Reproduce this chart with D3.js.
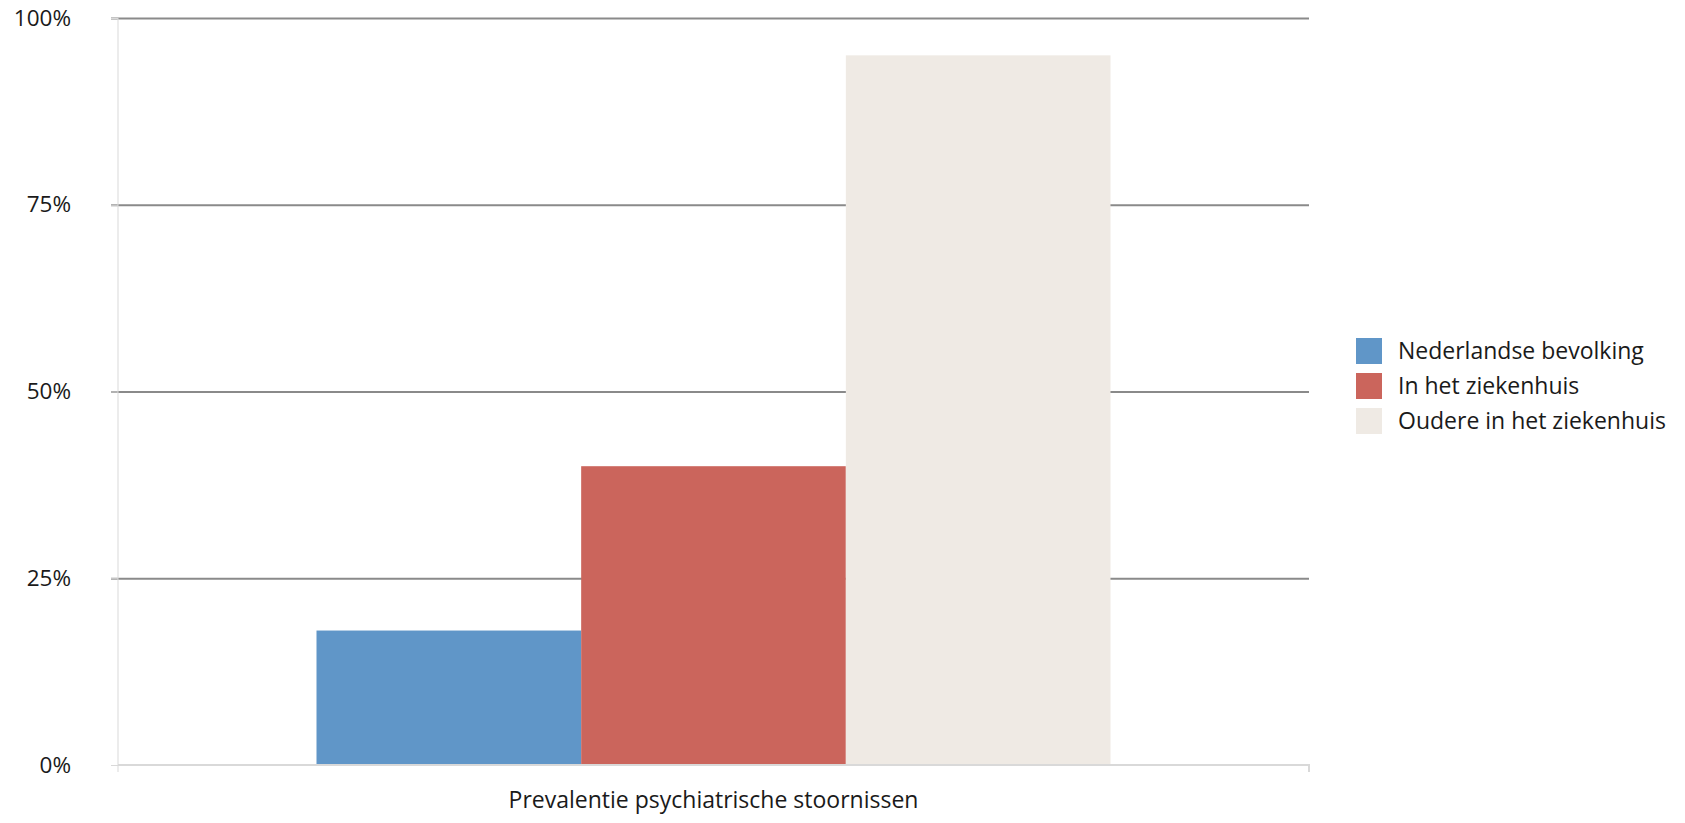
<!DOCTYPE html>
<html>
<head>
<meta charset="utf-8">
<script src="https://cdn.jsdelivr.net/npm/d3@7"></script>
<style>
  body { margin: 0; background: #fff; }
  text { font-family: "Open Sans", sans-serif; fill: #1a1a1a; }
</style>
</head>
<body>
<svg id="chart" width="1685" height="823"></svg>
<script>
/*Data*/
var category = 'Prevalentie psychiatrische stoornissen';
var seriesNames = ['Nederlandse bevolking', 'In het ziekenhuis', 'Oudere in het ziekenhuis'];
var seriesValues = [18, 40, 95];
var seriesColors = ['#6096c8', '#cb655c', '#efeae4'];
var tickValues = [0, 25, 50, 75, 100];

var svg = d3.select('#chart'),
    margin = {top: 18, right: 376, bottom: 58, left: 118},
    width = +svg.attr('width') - margin.left - margin.right,
    height = +svg.attr('height') - margin.top - margin.bottom;

var x0 = d3.scaleBand().domain([category]).range([0, width]).paddingOuter(0.25).paddingInner(0),
    x1 = d3.scaleBand().domain(seriesNames).range([0, x0.bandwidth()]),
    y = d3.scaleLinear().domain([0, 100]).range([height, 0]);

var g = svg.append('g')
    .attr('transform', 'translate(' + margin.left + ',' + margin.top + ')');

/*Gridlines*/
g.append('g')
    .attr('class', 'grid')
    .call(d3.axisLeft(y).tickValues(tickValues.slice(1)).tickSize(-width - 7).tickFormat(''))
    .attr('transform', 'translate(-7,0)')
    .call(function(s) {
      s.select('.domain').remove();
      s.selectAll('line').attr('stroke', '#8a8a8a').attr('stroke-width', 2);
    });

/*Y axis*/
g.append('g')
    .call(d3.axisLeft(y).tickValues(tickValues).tickSize(7).tickPadding(40)
      .tickFormat(function(d) { return d + '%'; }))
    .call(function(s) {
      s.select('.domain').attr('stroke', '#d9d9d9').attr('d', 'M0,' + (height + 7) + 'V0');
      s.selectAll('line').attr('stroke', '#d9d9d9');
      s.selectAll('text').attr('font-size', 22.5).attr('font-family', '"Open Sans", sans-serif').attr('fill', '#1a1a1a');
    });

/*Bars*/
g.selectAll('.bar')
  .data(seriesValues)
  .enter().append('rect')
    .attr('class', 'bar')
    .attr('x', function(d, i) { return x0(category) + x1(seriesNames[i]); })
    .attr('y', function(d) { return y(d); })
    .attr('width', x1.bandwidth())
    .attr('height', function(d) { return height - y(d); })
    .attr('fill', function(d, i) { return seriesColors[i]; });

/*X axis*/
g.append('g')
    .attr('transform', 'translate(0,' + height + ')')
    .call(d3.axisBottom(x0).tickSize(0).tickPadding(27))
    .call(function(s) {
      s.select('.domain').attr('stroke', '#d9d9d9').attr('stroke-width', 2).attr('d', 'M0,0H' + width + 'V7');
      s.selectAll('text').attr('font-size', 23).attr('font-family', '"Open Sans", sans-serif').attr('fill', '#1a1a1a');
    });

/*Legend*/
var legend = svg.append('g')
    .attr('transform', 'translate(1356,338)');

var item = legend.selectAll('.item')
  .data(seriesNames)
  .enter().append('g')
    .attr('transform', function(d, i) { return 'translate(0,' + i * 35 + ')'; });

item.append('rect')
    .attr('width', 26)
    .attr('height', 26)
    .attr('fill', function(d, i) { return seriesColors[i]; });

item.append('text')
    .attr('x', 42)
    .attr('y', 13)
    .attr('dy', '0.35em')
    .attr('font-size', 23)
    .text(function(d) { return d; });
</script>
</body>
</html>
